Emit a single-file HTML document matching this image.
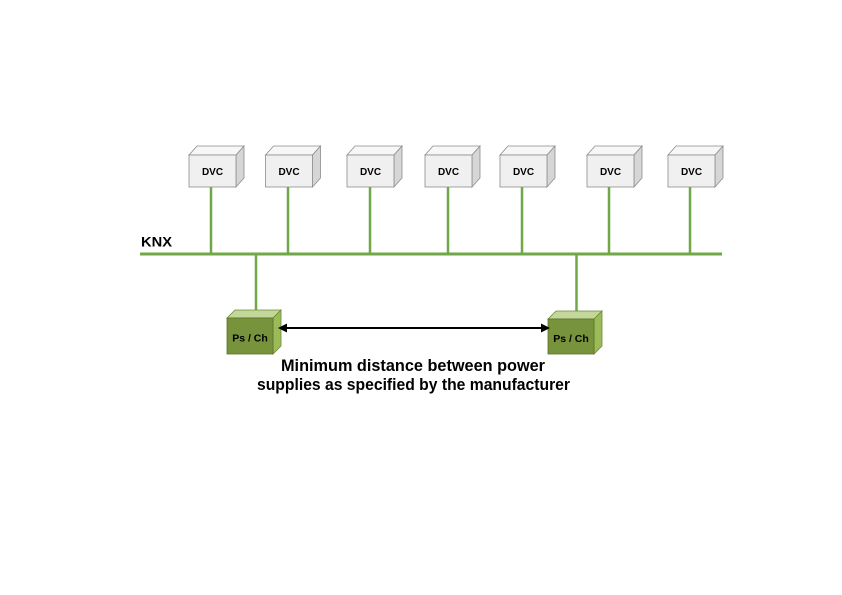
<!DOCTYPE html>
<html>
<head>
<meta charset="utf-8">
<style>
  html,body{margin:0;padding:0;background:#ffffff;}
  svg{display:block;}
  text{font-family:"Liberation Sans",sans-serif;font-weight:bold;fill:#000;}
</style>
</head>
<body>
<svg width="842" height="595" viewBox="0 0 842 595" xmlns="http://www.w3.org/2000/svg">
  <rect width="842" height="595" fill="#ffffff"/>

  <!-- Bus line -->
  <line x1="140" y1="254" x2="722" y2="254" stroke="#70a847" stroke-width="3"/>
  <text x="141" y="246.5" font-size="14" textLength="31" lengthAdjust="spacingAndGlyphs">KNX</text>

  <!-- Drops to DVCs -->
  <g stroke="#70a847" stroke-width="2.5">
    <line x1="211" y1="187" x2="211" y2="254"/>
    <line x1="288" y1="187" x2="288" y2="254"/>
    <line x1="370" y1="187" x2="370" y2="254"/>
    <line x1="448" y1="187" x2="448" y2="254"/>
    <line x1="522" y1="187" x2="522" y2="254"/>
    <line x1="609" y1="187" x2="609" y2="254"/>
    <line x1="690" y1="187" x2="690" y2="254"/>
    <line x1="256" y1="254" x2="256" y2="311"/>
    <line x1="576.5" y1="254" x2="576.5" y2="312"/>
  </g>

  <!-- DVC box template -->
  <defs>
    <g id="dvc">
      <polygon points="0,9 8,0 55,0 47,9" fill="#f7f7f7" stroke="#8c8c8c" stroke-width="0.8"/>
      <polygon points="47,9 55,0 55,32 47,41" fill="#d6d6d6" stroke="#8c8c8c" stroke-width="0.8"/>
      <rect x="0" y="9" width="47" height="32" fill="#f0f0f0" stroke="#8c8c8c" stroke-width="0.8"/>
    </g>
  </defs>

  <use href="#dvc" x="189" y="146"/>
  <use href="#dvc" x="265.5" y="146"/>
  <use href="#dvc" x="347" y="146"/>
  <use href="#dvc" x="425" y="146"/>
  <use href="#dvc" x="500" y="146"/>
  <use href="#dvc" x="587" y="146"/>
  <use href="#dvc" x="668" y="146"/>

  <g font-size="10" text-anchor="middle">
    <text x="212.5" y="175">DVC</text>
    <text x="289" y="175">DVC</text>
    <text x="370.5" y="175">DVC</text>
    <text x="448.5" y="175">DVC</text>
    <text x="523.5" y="175">DVC</text>
    <text x="610.5" y="175">DVC</text>
    <text x="691.5" y="175">DVC</text>
  </g>

  <!-- Power supply boxes -->
  <g>
    <polygon points="227,318 235,310 281,310 273,318" fill="#c4d79b" stroke="#6b8a33" stroke-width="0.8"/>
    <polygon points="273,318 281,310 281,346 273,354" fill="#9bbb59" stroke="#6b8a33" stroke-width="0.8"/>
    <rect x="227" y="318" width="46" height="36" fill="#77933c" stroke="#5a7229" stroke-width="0.8"/>
    <text x="250" y="341.5" font-size="10.5" text-anchor="middle" fill="#111">Ps / Ch</text>
  </g>
  <g>
    <polygon points="548,319 556,311 602,311 594,319" fill="#c4d79b" stroke="#6b8a33" stroke-width="0.8"/>
    <polygon points="594,319 602,311 602,346 594,354" fill="#9bbb59" stroke="#6b8a33" stroke-width="0.8"/>
    <rect x="548" y="319" width="46" height="35" fill="#77933c" stroke="#5a7229" stroke-width="0.8"/>
    <text x="571" y="342" font-size="10.5" text-anchor="middle" fill="#111">Ps / Ch</text>
  </g>

  <!-- Double arrow -->
  <line x1="284" y1="328" x2="544" y2="328" stroke="#000" stroke-width="2"/>
  <polygon points="278,328 287,323.5 287,332.5" fill="#000"/>
  <polygon points="550,328 541,323.5 541,332.5" fill="#000"/>

  <!-- Caption -->
  <text x="281" y="371" font-size="16.5" textLength="264" lengthAdjust="spacingAndGlyphs">Minimum distance between power</text>
  <text x="257" y="390" font-size="16.5" textLength="313" lengthAdjust="spacingAndGlyphs">supplies as specified by the manufacturer</text>
</svg>
</body>
</html>
